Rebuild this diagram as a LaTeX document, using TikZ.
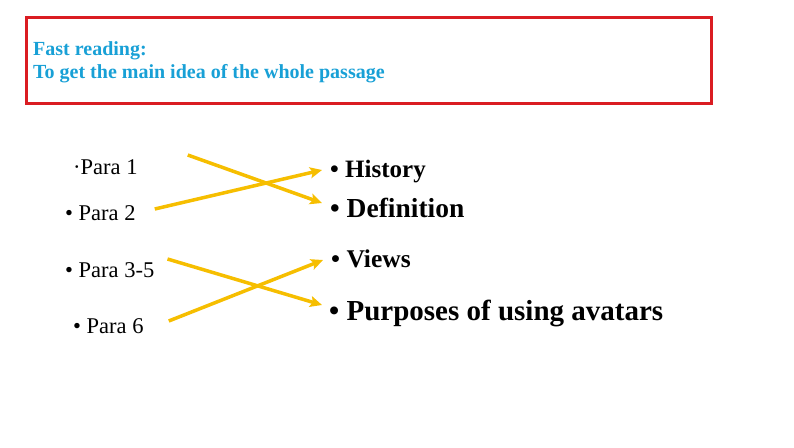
\documentclass[tikz,border=0pt]{standalone}
\usepackage{fontspec}
\setmainfont{Liberation Serif}
\usetikzlibrary{calc}
\usetikzlibrary{arrows.meta}
\usepackage{xcolor}
\definecolor{boxred}{RGB}{218,28,34}
\definecolor{titleblue}{RGB}{24,160,214}
\definecolor{linkgold}{RGB}{246,190,0}

\begin{document}
\begin{tikzpicture}[x=1pt, y=-1pt,
 para/.style={anchor=base west, inner sep=0, font=\fontsize{22.5}{26}\selectfont},
 topic/.style={anchor=base west, inner sep=0},
 link/.style={linkgold, line width=3.5pt, -{Stealth[length=12pt, width=11pt, inset=2.5pt]}}]
\useasboundingbox (0,0) rectangle (794,447);
\draw[boxred, line width=3pt] (26,17) rectangle (711,103);
\node[anchor=base west, inner sep=0, align=left, text=titleblue,
 font=\bfseries\fontsize{20}{23}\selectfont] (title) at (33,78)
 {Fast reading:\\To get the main idea of the whole passage};
% paragraphs
\node[para] (p1) at (73,174) {·Para 1};
\node[para] (p2) at (65,220) {• Para 2};
\node[para] (p35) at (65,277) {• Para 3-5};
\node[para] (p6) at (73,333) {• Para 6};
% topics
\node[topic, font=\bfseries\fontsize{25}{30}\selectfont] (hist) at (330,177) {• History};
\node[topic, font=\bfseries\fontsize{27.5}{32}\selectfont] (defn) at (330,217) {• Definition};
\node[topic, font=\bfseries\fontsize{25.5}{30}\selectfont] (views) at (331,267) {• Views};
\node[topic, font=\bfseries\fontsize{29}{34}\selectfont] (purp) at (329,320) {• Purposes of using avatars};
% tails of the links
\coordinate (p1 tail) at ($(p1.base east)+(50,-19)$);
\coordinate (p2 tail) at ($(p2.base east)+(19,-11)$);
\coordinate (p35 tail) at ($(p35.base east)+(13,-18)$);
\coordinate (p6 tail) at ($(p6.base east)+(25,-12)$);
\draw[link] (p1 tail) -- ($(defn.base west)+(-8,-14)$);
\draw[link] (p2 tail) -- ($(hist.base west)+(-8,-7)$);
\draw[link] (p35 tail) -- ($(purp.base west)+(-7,-15)$);
\draw[link] (p6 tail) -- ($(views.base west)+(-8,-7)$);
\end{tikzpicture}
\end{document}
